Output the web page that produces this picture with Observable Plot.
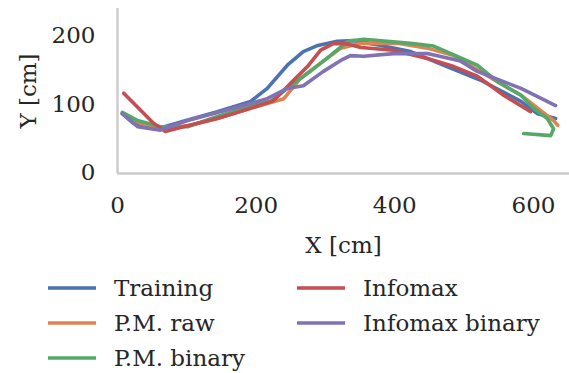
<!DOCTYPE html>
<html>
<head>
<meta charset="utf-8">
<script src="https://cdn.jsdelivr.net/npm/d3@7"></script>
<script src="https://cdn.jsdelivr.net/npm/@observablehq/plot@0.6"></script>
<style>
  html, body { margin: 0; padding: 0; background: #fff; }
  body { width: 569px; height: 373px; overflow: hidden; position: relative; font-family: "DejaVu Serif", serif; color: #262626; }
  #legend { position: absolute; left: 48px; top: 270px; display: grid; grid-auto-flow: column; grid-template-rows: repeat(3, 35px); grid-template-columns: 249px auto; }
  .item { display: flex; align-items: center; font-size: 23px; height: 35px; white-space: nowrap; }
  .item svg { margin-right: 18px; }
</style>
</head>
<body>
<div id="chart"></div>
<div id="legend"></div>
<script>
const seriesNames = ["Training", "P.M. raw", "P.M. binary", "Infomax", "Infomax binary"];
const seriesColors = ["#4C72B0", "#DD8452", "#55A868", "#C44E52", "#8172B3"];
const xTicks = [0, 200, 400, 600];
const yTicks = [0, 100, 200];

const trainingX = [7, 23, 58, 95, 144, 192, 216, 245, 268, 289, 317, 341, 380, 423, 470, 524, 582, 606, 632];
const trainingY = [86, 72, 64, 75, 89, 104, 123, 157, 177, 186, 192, 193, 186, 177, 157, 135, 104, 86, 79];

const pmRawX = [7, 33, 69, 105, 144, 192, 240, 264, 293, 322, 351, 404, 447, 485, 548, 582, 606, 629, 635];
const pmRawY = [86, 72, 64, 69, 79, 94, 108, 138, 160, 182, 189, 189, 182, 171, 133, 113, 94, 76, 69];

const pmBinaryX = [7, 29, 62, 101, 144, 192, 221, 245, 278, 307, 332, 355, 423, 456, 481, 519, 548, 582, 600, 620, 629, 625, 586];
const pmBinaryY = [88, 76, 67, 67, 82, 97, 104, 123, 148, 171, 192, 195, 189, 185, 174, 157, 133, 113, 94, 79, 64, 54, 57];

const infomaxX = [9, 52, 69, 95, 144, 192, 225, 254, 274, 293, 312, 332, 351, 398, 447, 485, 519, 557, 596];
const infomaxY = [116, 72, 60, 67, 79, 94, 105, 135, 155, 179, 189, 188, 183, 179, 167, 155, 141, 113, 89];

const infomaxBinX = [7, 29, 62, 101, 167, 216, 245, 268, 297, 322, 336, 355, 398, 447, 495, 519, 557, 582, 606, 632];
const infomaxBinY = [86, 67, 62, 76, 94, 108, 123, 127, 148, 164, 171, 170, 174, 174, 163, 148, 133, 123, 111, 98];

const seriesX = [trainingX, pmRawX, pmBinaryX, infomaxX, infomaxBinX];
const seriesY = [trainingY, pmRawY, pmBinaryY, infomaxY, infomaxBinY];

const rows = [];
seriesNames.forEach((name, i) => {
  seriesX[i].forEach((x, j) => rows.push({series: name, x, y: seriesY[i][j]}));
});

const grey = "#cccccc";
const chart = Plot.plot({
  width: 569,
  height: 260,
  marginLeft: 117,
  marginRight: 0,
  marginTop: 8,
  marginBottom: 87,
  style: {fontFamily: "DejaVu Serif", fontSize: "23px", color: "#262626", background: "#fff", overflow: "visible"},
  x: {domain: [0, 652]},
  y: {domain: [-1.5, 240]},
  color: {domain: seriesNames, range: seriesColors},
  marks: [
    Plot.ruleX([0], {stroke: grey, strokeWidth: 2.5}),
    Plot.ruleY([-1.5], {stroke: grey, strokeWidth: 2.5}),
    Plot.axisX({ticks: xTicks, tickSize: 0, tickPadding: 23, label: "X [cm]", labelAnchor: "center", labelArrow: "none", labelOffset: 79, fontSize: 23}),
    Plot.axisY({ticks: yTicks, tickSize: 0, tickPadding: 22, label: "Y [cm]", labelAnchor: "center", labelArrow: "none", labelOffset: 98, fontSize: 23}),
    Plot.line(rows, {x: "x", y: "y", z: "series", stroke: "series", strokeWidth: 3.6, strokeLinejoin: "round", strokeLinecap: "round"})
  ]
});
document.getElementById("chart").appendChild(chart);

const legend = document.getElementById("legend");
seriesNames.forEach((name, i) => {
  const item = document.createElement("div");
  item.className = "item";
  item.innerHTML = `<svg width="48" height="6"><line x1="0" x2="48" y1="3" y2="3" stroke="${seriesColors[i]}" stroke-width="3.4"/></svg><span>${name}</span>`;
  legend.appendChild(item);
});
</script>
</body>
</html>
